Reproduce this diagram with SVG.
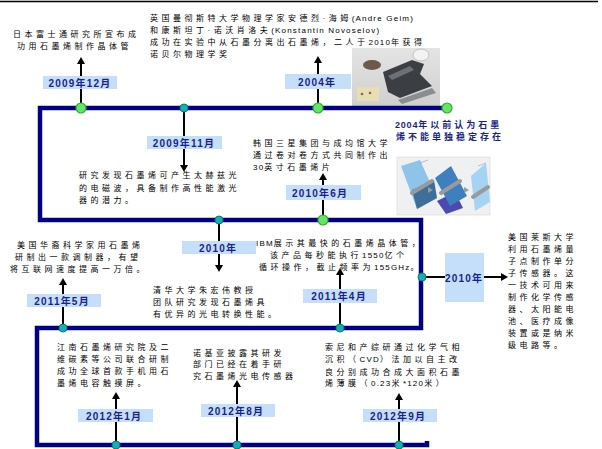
<svg xmlns="http://www.w3.org/2000/svg" width="602" height="449" viewBox="0 0 602 449">
<defs>
<style>
.t{font-family:"Liberation Sans","Noto Sans CJK SC",sans-serif;font-size:8px;letter-spacing:3.5px;fill:#000}
.l{letter-spacing:1.2px}
.lb{font-family:"Liberation Sans","Noto Sans CJK SC",sans-serif;font-size:10px;font-weight:bold;fill:#1a1f8c;letter-spacing:1.2px;text-anchor:middle}
.nt{font-family:"Liberation Sans","Noto Sans CJK SC",sans-serif;font-size:9px;font-weight:bold;fill:#1a1f8c;letter-spacing:3px}
.box{fill:#c5dffa}
.arr{stroke:#000;stroke-width:2;fill:none;marker-end:url(#ah)}
.g{fill:#66e466;stroke:#2fae2f;stroke-width:1.2}
.c{fill:#12b0b0;stroke:#067c7c;stroke-width:1}
.rl{stroke:#9a9a9a;stroke-width:4;stroke-linecap:round}
</style>
<marker id="ah" markerUnits="userSpaceOnUse" markerWidth="8" markerHeight="8" refX="2" refY="4" orient="auto">
<path d="M0,0 L7,4 L0,8 z" fill="#000"/>
</marker>
<linearGradient id="ph1" x1="0" y1="0" x2="0" y2="1">
<stop offset="0" stop-color="#e4e4e4"/><stop offset="1" stop-color="#cfcfcf"/>
</linearGradient>
</defs>
<rect width="602" height="449" fill="#fff"/>
<line x1="0" y1="1.5" x2="598" y2="1.5" stroke="#000" stroke-width="1.5"/>

<g id="photo-tape">
<rect x="352" y="48" width="88" height="58" fill="url(#ph1)"/>
<ellipse cx="372" cy="65" rx="9" ry="5" fill="#6b5a4a"/>
<rect x="357" y="87" width="22" height="14" fill="#e9ddb4"/>
<circle cx="362" cy="94" r="1.3" fill="#7a6a50"/>
<circle cx="370" cy="93" r="1.3" fill="#7a6a50"/>
<polygon points="398,100 432,88 436,93 402,104" fill="#8a8d90"/>
<polygon points="383,72 412,60 424,64 420,74 432,86 400,98 388,92" fill="#3b3e42"/>
<polygon points="388,76 410,66 414,70 392,80" fill="#6d7176"/>
<ellipse cx="421" cy="55" rx="8" ry="6" fill="#f2f2f2" stroke="#b8b8b8" stroke-width="0.8"/>
</g>

<g id="photo-roll">
<rect x="397" y="157" width="93" height="58" fill="#eef0f2" stroke="#d4d6d8" stroke-width="0.6"/>
<polygon points="401,166 420,160 437,198 417,209" fill="#8fc3ea"/>
<polygon points="412,190 434,180 437,198 417,209" fill="#3d6f9a"/>
<line class="rl" x1="412" y1="193" x2="432" y2="181"/>
<polygon points="428,187 433,190 428,193" fill="#9a9a9a"/>
<polygon points="437,201 455,192 463,208 446,214" fill="#4a4ab0"/>
<polygon points="435,178 451,166 467,196 450,206" fill="#3e7fbf"/>
<line class="rl" x1="441" y1="193" x2="460" y2="181"/>
<polygon points="464,187 469,190 464,193" fill="#9a9a9a"/>
<polygon points="471,176 486,163 490,202 475,211" fill="#a4d3f3"/>
<line class="rl" x1="473" y1="197" x2="488" y2="187"/>
<line x1="420" y1="163" x2="428" y2="160" stroke="#888" stroke-width="0.5"/>
<line x1="478" y1="166" x2="486" y2="163" stroke="#888" stroke-width="0.5"/>
</g>

<g id="timeline">
<path d="M447,108 H40 V220 H421 V328 H37 V445 H427 V441" fill="none" stroke="#000080" stroke-width="4.5" stroke-linejoin="miter"/>
</g>

<g id="connectors">
<line class="arr" x1="81" y1="108" x2="81" y2="62"/>
<line class="arr" x1="318" y1="108" x2="318" y2="61"/>
<line class="arr" x1="184" y1="108" x2="184" y2="167"/>
<line class="arr" x1="323" y1="220" x2="323" y2="178"/>
<line class="arr" x1="219" y1="220" x2="219" y2="267"/>
<line class="arr" x1="63" y1="328" x2="63" y2="283"/>
<line class="arr" x1="340" y1="328" x2="340" y2="273"/>
<line class="arr" x1="422" y1="277" x2="503" y2="277"/>
<line class="arr" x1="116" y1="445" x2="116" y2="397"/>
<line class="arr" x1="237" y1="445" x2="237" y2="385"/>
<line class="arr" x1="399" y1="445" x2="399" y2="398"/>
</g>

<g id="n-2009-12">
<rect class="box" x="43" y="76" width="74" height="13"/>
<text class="lb" x="80" y="86.5">2009年12月</text>
<text class="t" x="13" y="37">日本富士通研究所宣布成</text>
<text class="t" x="17" y="49">功用石墨烯制作晶体管</text>
<circle class="g" cx="81" cy="108" r="5"/>
</g>

<g id="n-2004">
<rect class="box" x="285" y="74" width="66" height="15"/>
<text class="lb" x="317" y="85.5">2004年</text>
<text class="t" x="150" y="21">英国曼彻斯特大学物理学家安德烈·海姆<tspan class="l">(Andre Geim)</tspan></text>
<text class="t" x="150" y="33">和康斯坦丁·诺沃肖洛夫<tspan class="l">(Konstantin Novoselov)</tspan></text>
<text class="t" x="150" y="45">成功在实验中从石墨分离出石墨烯，二人于<tspan class="l">2010</tspan>年获得</text>
<text class="t" x="150" y="57">诺贝尔物理学奖</text>
<circle class="g" cx="318" cy="108" r="5"/>
</g>

<g id="n-end">
<circle class="g" cx="447" cy="108" r="5"/>
</g>

<g id="n-2009-11">
<rect class="box" x="147" y="136" width="75" height="13"/>
<text class="lb" x="184" y="146.5">2009年11月</text>
<text class="t" x="79" y="178">研究发现石墨烯可产生太赫兹光</text>
<text class="t" x="79" y="191">的电磁波，具备制作高性能激光</text>
<text class="t" x="79" y="203">器的潜力。</text>
<circle class="c" cx="184" cy="108" r="4"/>
</g>

<g id="n-2010-6">
<rect class="box" x="286" y="185" width="75" height="15"/>
<text class="lb" x="320" y="196.5">2010年6月</text>
<text class="t" x="253" y="146">韩国三星集团与成均馆大学</text>
<text class="t" x="253" y="158">通过卷对卷方式共同制作出</text>
<text class="t" x="253" y="170"><tspan class="l">30</tspan>英寸石墨烯片</text>
<circle class="g" cx="323" cy="220" r="5"/>
</g>

<g id="n-note">
<text class="nt" x="395" y="128"><tspan letter-spacing="0.8">2004</tspan>年以前认为石墨</text>
<text class="nt" x="396" y="140">烯不能单独稳定存在</text>
</g>

<g id="n-2010-a">
<rect class="box" x="182" y="241" width="74" height="13"/>
<text class="lb" x="218" y="251.5">2010年</text>
<text class="t" x="153" y="293">清华大学朱宏伟教授</text>
<text class="t" x="153" y="305">团队研究发现石墨烯具</text>
<text class="t" x="153" y="317">有优异的光电转换性能。</text>
<circle class="c" cx="219" cy="220" r="4"/>
</g>

<g id="n-2011-5">
<rect class="box" x="27" y="294" width="74" height="13"/>
<text class="lb" x="62" y="304.5">2011年5月</text>
<text class="t" x="17" y="248">美国华裔科学家用石墨烯</text>
<text class="t" x="15" y="260">研制出一款调制器，有望</text>
<text class="t" x="10" y="272">将互联网速度提高一万倍。</text>
<circle class="c" cx="63" cy="328" r="4"/>
</g>

<g id="n-2011-4">
<rect class="box" x="303" y="289" width="74" height="14"/>
<text class="lb" x="339" y="300">2011年4月</text>
<text class="t" x="256" y="246"><tspan class="l">IBM</tspan>展示其最快的石墨烯晶体管，</text>
<text class="t" x="270" y="258">该产品每秒能执行<tspan class="l">1550</tspan>亿个</text>
<text class="t" x="259" y="270">循环操作，截止频率为<tspan class="l">155GHz</tspan>。</text>
<circle class="c" cx="340" cy="328" r="4"/>
</g>

<g id="n-2010-b">
<rect class="box" x="445" y="253" width="39" height="49"/>
<text class="lb" x="464" y="282">2010年</text>
<text class="t" x="508" y="240">美国莱斯大学</text>
<text class="t" x="508" y="252">利用石墨烯量</text>
<text class="t" x="508" y="264">子点制作单分</text>
<text class="t" x="508" y="276">子传感器。这</text>
<text class="t" x="508" y="288">一技术可用来</text>
<text class="t" x="508" y="300">制作化学传感</text>
<text class="t" x="508" y="312">器、太阳能电</text>
<text class="t" x="508" y="324">池、医疗成像</text>
<text class="t" x="508" y="336">装置或是纳米</text>
<text class="t" x="508" y="348">级电路等。</text>
<circle class="c" cx="422" cy="277" r="4"/>
</g>

<g id="n-2012-1">
<rect class="box" x="78" y="409" width="75" height="13"/>
<text class="lb" x="114" y="419.5">2012年1月</text>
<text class="t" x="57" y="350">江南石墨烯研究院及二</text>
<text class="t" x="57" y="362">维碳素等公司联合研制</text>
<text class="t" x="57" y="374">成功全球首款手机用石</text>
<text class="t" x="57" y="386">墨烯电容触摸屏。</text>
<circle class="c" cx="116" cy="445" r="4"/>
</g>

<g id="n-2012-8">
<rect class="box" x="201" y="404" width="74" height="13"/>
<text class="lb" x="236" y="414.5">2012年8月</text>
<text class="t" x="193" y="356">诺基亚披露其研发</text>
<text class="t" x="193" y="367">部门已经在着手研</text>
<text class="t" x="193" y="379">究石墨烯光电传感器</text>
<circle class="c" cx="237" cy="445" r="4"/>
</g>

<g id="n-2012-9">
<rect class="box" x="363" y="409" width="74" height="13"/>
<text class="lb" x="398" y="419.5">2012年9月</text>
<text class="t" x="325" y="350">索尼和产综研通过化学气相</text>
<text class="t" x="325" y="362">沉积（<tspan class="l">CVD</tspan>）法加以自主改</text>
<text class="t" x="325" y="375">良分别成功合成大面积石墨</text>
<text class="t" x="325" y="386">烯薄膜（<tspan class="l">0.23</tspan>米<tspan class="l">*120</tspan>米）</text>
<circle class="c" cx="399" cy="445" r="4"/>
</g>
</svg>
